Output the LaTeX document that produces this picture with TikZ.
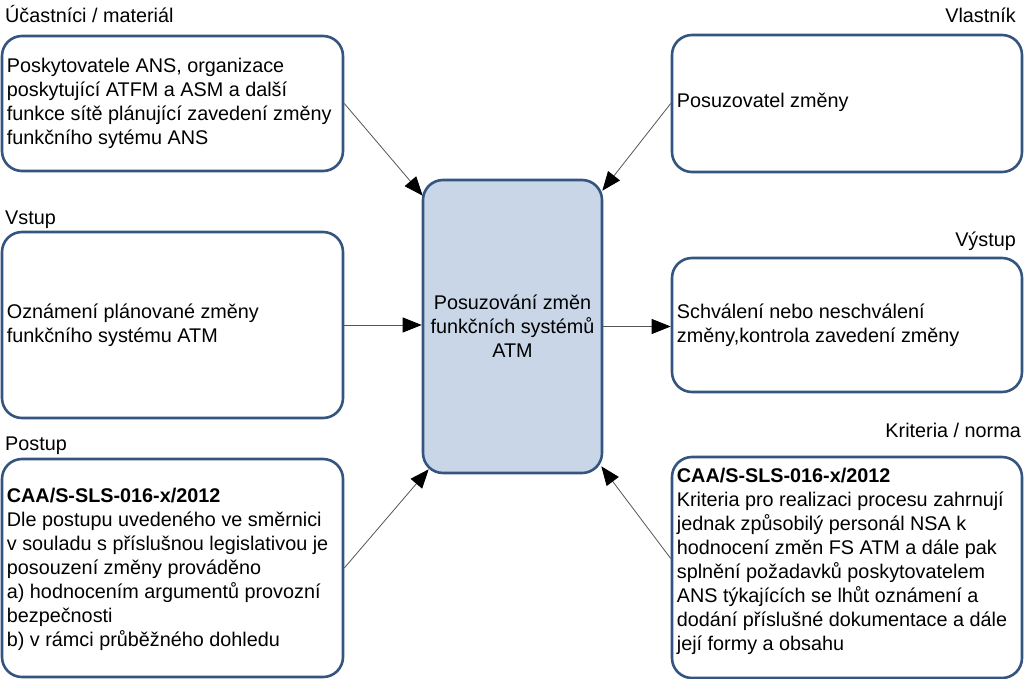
\documentclass[tikz,border=0pt]{standalone}
\usepackage{fontspec}
\setmainfont{Liberation Sans}
\usetikzlibrary{arrows.meta}
\definecolor{boxblue}{RGB}{52,85,128}
\definecolor{fillblue}{RGB}{200,214,232}
\definecolor{linegrey}{RGB}{85,85,85}
\begin{document}
\begin{tikzpicture}[x=1pt,y=1pt,
  box/.style={draw=boxblue, line width=2.6pt, rounded corners=20pt, fill=white,
    inner sep=0pt, anchor=center},
  txt/.style={font=\fontsize{19.8}{24}\selectfont, inner sep=0pt, align=left, anchor=west},
  lbl/.style={font=\fontsize{19.8}{24}\selectfont, inner sep=0pt},
  conn/.style={draw=linegrey, line width=0.8pt,
    -{Triangle[length=19pt,width=15pt,color=black]}}]
\path[use as bounding box, fill=white] (0,0) rectangle (1024,-679);

% labels
\node[lbl, anchor=base west] (l1) at (5,-23) {Účastníci / materiál};
\node[lbl, anchor=base west] (l2) at (5,-224) {Vstup};
\node[lbl, anchor=base west] (l3) at (5,-450) {Postup};
\node[lbl, anchor=base east] (l4) at (1016,-23) {Vlastník};
\node[lbl, anchor=base east] (l5) at (1016,-246) {Výstup};
\node[lbl, anchor=base east] (l6) at (1021,-437) {Kriteria / norma};

% left boxes
\node[box, minimum width=341pt, minimum height=135pt] (b1) at (172.5,-103.5) {};
\node[box, minimum width=341pt, minimum height=186pt] (b2) at (172.5,-325) {};
\node[box, minimum width=341pt, minimum height=218pt] (b3) at (172.5,-568) {};
% right boxes
\node[box, minimum width=350pt, minimum height=137pt] (b4) at (847,-103.5) {};
\node[box, minimum width=350pt, minimum height=134pt] (b5) at (847,-325) {};
\node[box, minimum width=350pt, minimum height=221pt] (b6) at (847,-567.5) {};

% box texts
\node[txt] (x1) at ([xshift=6pt]b1.west)
  {Poskytovatele ANS, organizace\\ poskytující ATFM a ASM a další\\ funkce sítě plánující zavedení změny\\ funkčního sytému ANS};
\node[txt] (x2) at ([xshift=6pt]b2.west)
  {Oznámení plánované změny\\ funkčního systému ATM};
\node[txt] (x3) at ([xshift=6pt,yshift=-1pt]b3.west)
  {\textbf{CAA/S-SLS-016-x/2012}\\ Dle postupu uvedeného ve směrnici\\ v souladu s příslušnou legislativou je\\ posouzení změny prováděno\\ a) hodnocením argumentů provozní\\ bezpečnosti\\ b) v rámci průběžného dohledu};
\node[txt] (x4) at ([xshift=6pt,yshift=1pt]b4.west) {Posuzovatel změny};
\node[txt] (x5) at ([xshift=6pt]b5.west)
  {Schválení nebo neschválení\\ změny,kontrola zavedení změny};
\node[txt] (x6) at ([xshift=6pt,yshift=6pt]b6.west)
  {\textbf{CAA/S-SLS-016-x/2012}\\ Kriteria pro realizaci procesu zahrnují\\ jednak způsobilý personál NSA k\\ hodnocení změn FS ATM a dále pak\\ splnění požadavků poskytovatelem\\ ANS týkajících se lhůt oznámení a\\ dodání příslušné dokumentace a dále\\ její formy a obsahu};

% center
\node[box, fill=fillblue, align=center, minimum width=179pt, minimum height=293pt,
  font=\fontsize{19.8}{24}\selectfont] (c) at (512.5,-326.5)
  {Posuzování změn\\ funkčních systémů\\ ATM};

% connector end points
\coordinate (t1) at ([xshift=1pt,yshift=-17pt]c.north west);
\coordinate (t4) at ([xshift=-1pt,yshift=-12pt]c.north east);
\coordinate (t3) at ([xshift=7pt,yshift=5pt]c.south west);
\coordinate (t6) at ([xshift=-2pt,yshift=8pt]c.south east);
\coordinate (s6) at ([yshift=9pt]b6.west);

\draw[conn] (b1.east) -- (t1);
\draw[conn] (b4.west) -- (t4);
\draw[conn] (b2.east) -- (b2.east -| c.west);
\draw[conn] (c.east) -- (c.east -| b5.west);
\draw[conn] (b3.east) -- (t3);
\draw[conn] (s6) -- (t6);
\end{tikzpicture}
\end{document}
